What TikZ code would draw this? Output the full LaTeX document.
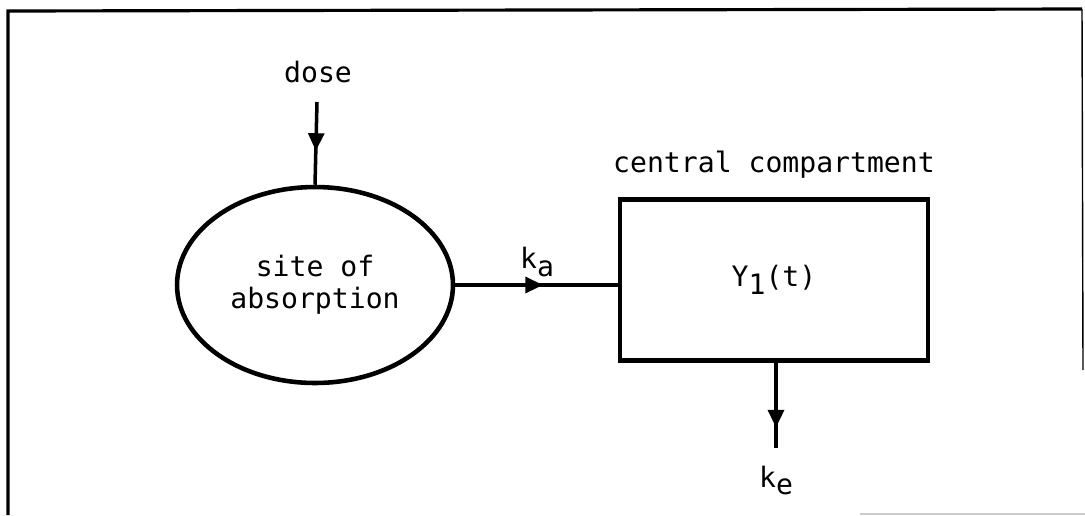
\documentclass[tikz,border=0pt]{standalone}
\usepackage{fontspec}
\newfontfamily\typewriter{DejaVu Sans Mono}
\usetikzlibrary{shapes.geometric,arrows.meta,decorations.markings,positioning}

\newcommand{\lowered}[1]{\raisebox{-0.5ex}{#1}}

\begin{document}
\begin{tikzpicture}[
  x=0.02cm,
  y=-0.02cm,
  every node/.style={
    font=\typewriter\fontsize{16pt}{18pt}\selectfont,
    inner sep=0pt
  },
  pool/.style={
    draw,
    ellipse,
    line width=2.6pt,
    minimum width=5.52cm,
    minimum height=3.92cm,
    align=center
  },
  compartment/.style={
    draw,
    rectangle,
    line width=2.6pt,
    minimum width=6.16cm,
    minimum height=3.22cm
  },
  flow/.style={
    line width=2pt,
    decoration={
      markings,
      mark=at position #1 with {\arrow{Triangle[length=10pt,width=9pt]}}
    },
    postaction={decorate}
  },
  flow/.default=0.5,
  frame/.style={
    line width=1.8pt
  },
]
\useasboundingbox (0,0) rectangle (1085,515);

% frame of the scanned page
\draw[frame] (8,515) -- (8,11) -- (1082,9);
\draw[line width=0.8pt] (1082,9) -- (1083,370);
\draw[gray!40, line width=0.6pt] (860,514) -- (1085,514);

% compartments
\node[pool] (absorb) at (315,285) {site of\\absorption};
\node[compartment] (central) at (774,280) {Y\lowered{1}(t)};

% labels
\node (dose) at (318,72) {dose};
\node[above=0.38cm of central] (centrallabel) {central compartment};
\node (ka) at (537,262) {k\lowered{a}};

\coordinate (dosein) at (317,102);
\coordinate (keout) at (776,448);
\node[below=0.35cm of keout] (ke) {k\lowered{e}};

% flows
\draw[flow=0.59] (dosein) -- (absorb.north);
\draw[flow=0.54] (absorb.east) -- (absorb.east -| central.west);
\draw[flow=0.76] (central.south -| keout) -- (keout);
\end{tikzpicture}
\end{document}
